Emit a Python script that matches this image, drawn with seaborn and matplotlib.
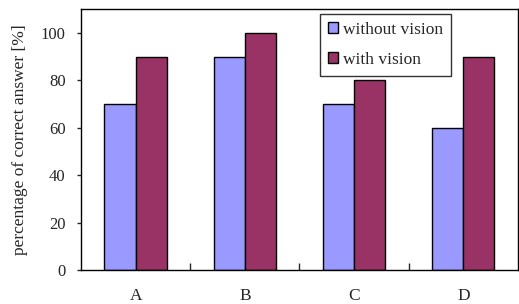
import pandas as pd
import matplotlib.pyplot as plt
import seaborn as sns
from matplotlib.ticker import FixedLocator

categories = ["A", "B", "C", "D"]
without_vision = [70, 90, 70, 60]
with_vision = [90, 100, 80, 90]
series_names = ["without vision", "with vision"]

df = pd.DataFrame({
    "task": categories * 2,
    "value": without_vision + with_vision,
    "condition": [series_names[0]] * 4 + [series_names[1]] * 4,
})

sns.set_style("white")
plt.rcParams["font.family"] = ["Liberation Serif", "DejaVu Serif"]

fig = plt.figure(figsize=(5.19, 3.04), dpi=100)
ax = fig.add_axes([0.156, 0.112, 0.842, 0.858])

sns.barplot(data=df, x="task", y="value", hue="condition", ax=ax,
            palette=["#9999FF", "#993366"], width=0.57,
            edgecolor="black", linewidth=1, saturation=1)

ax.set_xlim(-0.5, 3.5)
ax.set_ylim(0, 110)
ax.set_yticks([0, 20, 40, 60, 80, 100])
ax.set_xlabel("")
ax.set_ylabel("percentage of correct answer [%]", fontsize=12.5, labelpad=9)
ax.tick_params(axis="y", direction="out", length=3, width=1, labelsize=12, left=True, pad=8)
ax.tick_params(axis="x", which="major", length=0, labelsize=12.5, pad=13)
ax.xaxis.set_minor_locator(FixedLocator([0.5, 1.5, 2.5]))
ax.tick_params(axis="x", which="minor", direction="in", length=5, width=1, bottom=True)

for s in ax.spines.values():
    s.set_color("black")
    s.set_linewidth(1)

leg = ax.legend(loc="upper left", bbox_to_anchor=(0.547, 0.981), fontsize=12.5,
                frameon=True, fancybox=False, edgecolor="black",
                handlelength=0.6, handleheight=0.6, handletextpad=0.3,
                labelspacing=0.8, borderpad=0.45, borderaxespad=0)
leg.get_frame().set_linewidth(1)

plt.savefig("out.png", dpi=100)
